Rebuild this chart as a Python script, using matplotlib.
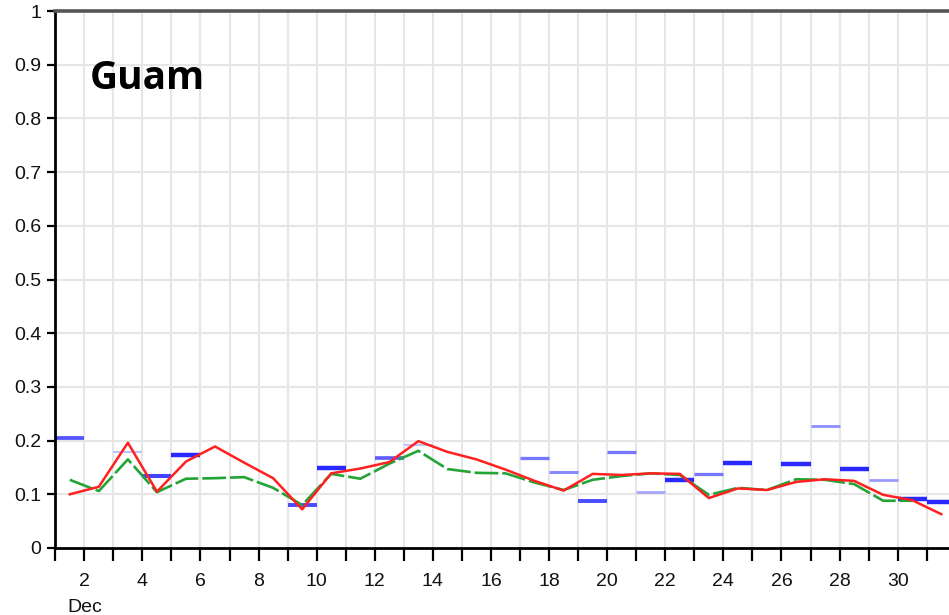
import numpy as np
import matplotlib
matplotlib.use("Agg")
import matplotlib.pyplot as plt
from matplotlib.colors import to_rgb

# Daily values, December (points plotted at local noon of each day)
red_days = [1.5, 2.5, 3.5, 4.5, 5.5, 6.5, 7.5, 8.5, 9.5, 10.5, 11.5, 12.5, 13.5, 14.5, 15.5,
            16.5, 17.5, 18.5, 19.5, 20.5, 21.5, 22.5, 23.5, 24.5, 25.5, 26.5, 27.5, 28.5,
            29.5, 30.5, 31.5]
red_values = [0.100, 0.114, 0.196, 0.105, 0.161, 0.189, 0.159, 0.130, 0.072, 0.139, 0.148,
              0.160, 0.199, 0.179, 0.165, 0.146, 0.125, 0.107, 0.138, 0.136, 0.139, 0.138,
              0.093, 0.111, 0.108, 0.123, 0.128, 0.125, 0.099, 0.089, 0.063]

green_days = [1.5, 2.5, 3.5, 4.5, 5.5, 6.5, 7.5, 8.5, 9.5, 10.5, 11.5, 12.5, 13.5, 14.5,
              15.5, 16.5, 17.5, 18.5, 19.5, 20.5, 21.5, 22.5, 23.5, 24.5, 25.5, 26.5, 27.5,
              28.5, 29.5, 30.5]
green_values = [0.127, 0.106, 0.165, 0.104, 0.129, 0.130, 0.132, 0.112, 0.080, 0.138, 0.129,
                0.157, 0.181, 0.147, 0.140, 0.139, 0.122, 0.108, 0.127, 0.134, 0.139, 0.136,
                0.099, 0.112, 0.108, 0.128, 0.127, 0.119, 0.088, 0.088]

# Daily observed values: each spans one day; shade = data weight (0 light .. 1 dark)
obs_days = [1, 3, 4, 5, 9, 10, 12, 13, 17, 18, 19, 20, 21, 22, 23, 24, 26, 27, 28, 29, 30, 31]
obs_values = [0.205, 0.178, 0.135, 0.173, 0.080, 0.149, 0.167, 0.191, 0.168, 0.142, 0.088,
              0.179, 0.104, 0.126, 0.138, 0.159, 0.157, 0.227, 0.147, 0.126, 0.092, 0.086]
obs_shade = [0.75, 0.12, 0.85, 1.0, 0.8, 1.0, 0.7, 0.12, 0.55, 0.45, 0.8, 0.55, 0.3, 1.0,
             0.55, 1.0, 1.0, 0.4, 1.0, 0.35, 1.0, 1.0]

y_ticks = [0, 0.1, 0.2, 0.3, 0.4, 0.5, 0.6, 0.7, 0.8, 0.9, 1.0]
y_tick_labels = ["0", "0.1", "0.2", "0.3", "0.4", "0.5", "0.6", "0.7", "0.8", "0.9", "1"]
x_label_days = list(range(2, 31, 2))

W, H = 949, 615
fig = plt.figure(figsize=(W / 100, H / 100), dpi=100)
fig.patch.set_facecolor("white")

# Axes spans day 1 .. day 32; the right part runs past the figure edge
x0_px, x1_px = 55.25, 955.8
y0_px, y1_px = 548, 11
ax = fig.add_axes([x0_px / W, (H - y0_px) / H, (x1_px - x0_px) / W, (y0_px - y1_px) / H])
ax.set_xlim(1, 32)
ax.set_ylim(0, 1)

# Grid
for d in range(2, 32):
    ax.axvline(d, color="#e6e6e6", lw=1.5, zorder=0)
for v in y_ticks[1:-1]:
    ax.axhline(v, color="#e6e6e6", lw=1.5, zorder=0)

# Observed daily bars
light = np.array(to_rgb("#d6d6ff"))
dark = np.array(to_rgb("#2828ff"))
for d, v, s in zip(obs_days, obs_values, obs_shade):
    col = light + (dark - light) * s
    ax.hlines(v, d, d + 1, colors=[col], linewidth=1.3 + 1.9 * s, zorder=2,
              capstyle="butt")

ax.plot(green_days, green_values, color="#22a535", lw=1.9, dashes=(9, 1.5), zorder=3)
ax.plot(red_days, red_values, color="#ff2020", lw=1.8, zorder=4)

# Ticks and labels
ax.set_yticks(y_ticks)
ax.set_yticklabels(y_tick_labels)
ax.set_xticks(range(1, 32))
ax.set_xticklabels([str(d) if d in x_label_days else "" for d in range(1, 32)])
ax.tick_params(axis="both", direction="out", color="black", width=1.6,
               labelsize=14, labelcolor="#111111")
ax.tick_params(axis="x", length=9, pad=9)
ax.tick_params(axis="y", length=6, pad=4)
for lab in ax.get_xticklabels() + ax.get_yticklabels():
    lab.set_family("Liberation Sans")

ax.spines["left"].set_linewidth(2)
ax.spines["bottom"].set_linewidth(2)
ax.spines["top"].set_linewidth(2.6)
ax.spines["top"].set_color("#555555")
ax.spines["right"].set_visible(False)

ax.text(2, -0.095, "Dec", transform=ax.get_xaxis_transform(), ha="center", va="top",
        fontsize=14, family="Liberation Sans", color="#111111")

fig.text(90 / W, (H - 89) / H, "Guam", fontsize=28, fontweight="bold",
         family="Open Sans", ha="left", va="baseline", color="black")

fig.savefig("out.png", dpi=100)
